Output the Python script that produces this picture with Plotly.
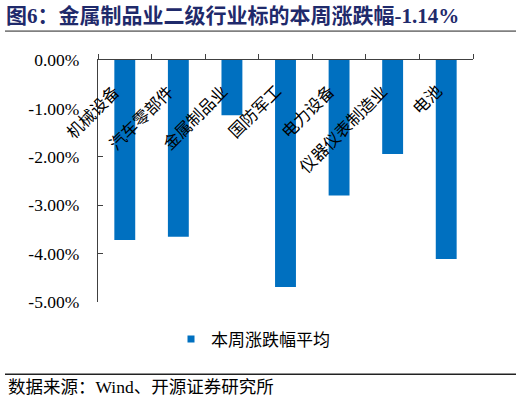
import plotly.graph_objects as go

categories = ["机械设备", "汽车零部件", "金属制品业", "国防军工", "电力设备", "仪器仪表制造业", "电池"]
values = [-3.72, -3.65, -1.14, -4.69, -2.80, -1.94, -4.11]
series_name = "本周涨跌幅平均"
y_tickvals = [0, -1, -2, -3, -4, -5]
y_ticktext = ["0.00%", "-1.00%", "-2.00%", "-3.00%", "-4.00%", "-5.00%"]
title_text = "图6：金属制品业二级行业标的本周涨跌幅-1.14%"
source_text = "数据来源：Wind、开源证券研究所"

W, H = 522, 405
L, R, T, B = 98, 473, 60, 302.5
BLUE = "#0070C0"
AXC = "#404040"
SERIF = "Liberation Serif, Noto Sans CJK SC"
CJK = "Noto Sans CJK SC, Liberation Serif"


def px_x(x):
    return (x - L) / (R - L)


def px_y(y):
    return (B - y) / (B - T)


fig = go.Figure()
fig.add_trace(go.Bar(x=categories, y=values, width=0.39, marker=dict(color=BLUE, line=dict(width=0)),
                     showlegend=False, name=series_name))
fig.add_trace(go.Scatter(x=[categories[0]], y=[None], mode="markers", name=series_name,
                         marker=dict(symbol="square", size=7, color=BLUE)))

annotations = []
for c in categories:
    annotations.append(dict(x=c, y=0, xref="x", yref="y", text=c, textangle=-45, showarrow=False,
                            xanchor="right", yanchor="top", xshift=3, yshift=-16,
                            font=dict(family=CJK, size=16.5, color="#000000")))
annotations.append(dict(x=px_x(6), y=px_y(388), xref="paper", yref="paper", text=source_text,
                        showarrow=False, xanchor="left", yanchor="middle",
                        font=dict(family=SERIF, size=17.5, color="#000000")))

shapes = [
    dict(type="line", xref="paper", yref="paper", x0=px_x(5), x1=px_x(516), y0=px_y(31), y1=px_y(31),
         line=dict(color="#808080", width=1.8)),
    dict(type="line", xref="paper", yref="paper", x0=px_x(5), x1=px_x(516), y0=px_y(375), y1=px_y(375),
         line=dict(color="#222222", width=1.5)),
]

fig.update_layout(
    width=W, height=H,
    margin=dict(l=L, r=W - R, t=T, b=H - B, pad=0),
    paper_bgcolor="white", plot_bgcolor="white",
    title=dict(text="<b>" + title_text + "</b>", xref="container", yref="container",
               x=6 / W, y=1 - 16 / H, xanchor="left", yanchor="middle",
               font=dict(family=SERIF, size=21, color="#1F2A6B")),
    xaxis=dict(side="top", type="category", categoryorder="array", categoryarray=categories,
               range=[-0.5, len(categories) - 0.5],
               showline=True, linecolor=AXC, linewidth=1.2, ticks="outside",
               tickson="boundaries", ticklen=5, tickcolor=AXC, tickwidth=1.2,
               showticklabels=False, showgrid=False, zeroline=False),
    yaxis=dict(range=[-5, 0], tickvals=y_tickvals, ticktext=y_ticktext, showline=True,
               linecolor=AXC, linewidth=1.2, ticks="inside", ticklen=5, tickcolor=AXC, tickwidth=1.2,
               showgrid=False, zeroline=False, ticklabelstandoff=14,
               tickfont=dict(family=SERIF, size=17.5, color="#000000")),
    showlegend=True,
    legend=dict(orientation="h", x=px_x(171), y=px_y(340), xanchor="left", yanchor="middle",
                font=dict(family=CJK, size=17, color="#000000"), bgcolor="rgba(0,0,0,0)"),
    annotations=annotations, shapes=shapes,
)

fig.write_html("out.html")
